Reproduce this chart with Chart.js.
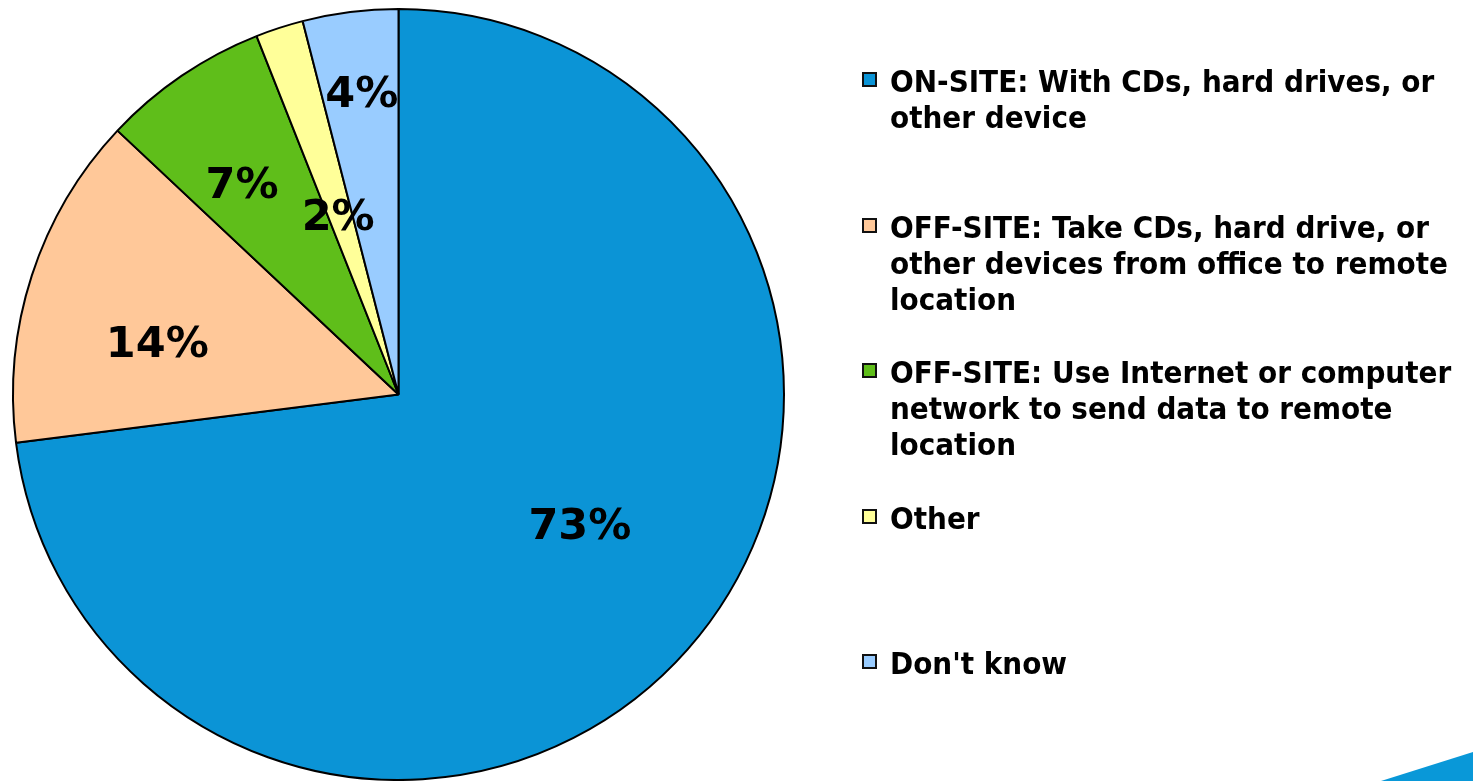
<!DOCTYPE html>
<html>
<head>
<meta charset="utf-8">
<script src="https://cdn.jsdelivr.net/npm/chart.js@4.4.1/dist/chart.umd.min.js"></script>
<style>
  html, body { margin: 0; padding: 0; background: #fff; }
  #wrap { position: relative; width: 1473px; height: 781px; overflow: hidden; }
  #chart { position: absolute; left: 0; top: 0; }
  #legend { position: absolute; left: 862px; top: 0; font-family: "DejaVu Sans", Verdana, sans-serif; font-weight: bold; font-size: 30px; color: #000; }
  .item { position: absolute; left: 0; white-space: nowrap; }
  .box { position: absolute; left: 0; top: 0; width: 11px; height: 11px; border: 2px solid #111; }
  .txt { position: absolute; left: 28px; top: -8px; line-height: 36px; transform: scaleX(0.93); transform-origin: 0 0; }
  #corner { position: absolute; right: 0; bottom: 0; width: 92px; height: 29px; background: #0998d8; clip-path: polygon(0 100%, 100% 0, 100% 100%); }
</style>
</head>
<body>
<div id="wrap">
  <canvas id="chart" width="1473" height="781"></canvas>
  <div id="legend"></div>
  <div id="corner"></div>
</div>
<script>
const categories = [
    ['ON-SITE: With CDs, hard drives, or', 'other device'],
    ['OFF-SITE: Take CDs, hard drive, or', 'other devices from office to remote', 'location'],
    ['OFF-SITE: Use Internet or computer', 'network to send data to remote', 'location'],
    ['Other'],
    ["Don't know"]
];
const shares = [73, 14, 7, 2, 4];
const sliceColors = ['#0b94d6', '#ffc899', '#5fbe1a', '#ffff99', '#99ccff'];
// where each percentage sits: fraction of radius, and nudge from the slice middle (degrees)
const labelDistance = [0.578, 0.641, 0.684, 0.493, 0.792];
const labelNudge = [-5.9, -5.5, -2.2, -0.5, 0.3];

// percentage labels inside the slices
const sliceLabels = {
    id: 'sliceLabels',
    afterDatasetsDraw(chart) {
        const ctx = chart.ctx;
        const arcs = chart.getDatasetMeta(0).data;
        ctx.save();
        ctx.font = 'bold 43px "DejaVu Sans", Verdana, sans-serif';
        ctx.fillStyle = '#000';
        ctx.textAlign = 'center';
        ctx.textBaseline = 'alphabetic';
        arcs.forEach((arc, i) => {
            const p = arc.getProps(['x', 'y', 'startAngle', 'endAngle', 'outerRadius'], true);
            const mid = (p.startAngle + p.endAngle) / 2 + labelNudge[i] * Math.PI / 180;
            const r = p.outerRadius * labelDistance[i];
            ctx.fillText(shares[i] + '%', p.x + Math.cos(mid) * r, p.y + Math.sin(mid) * r + 15.5);
        });
        ctx.restore();
    }
};

new Chart(document.getElementById('chart').getContext('2d'), {
    type: 'pie',
    data: {
        labels: categories,
        datasets: [{
            data: shares,
            backgroundColor: sliceColors,
            borderColor: '#000',
            borderWidth: 2
        }]
    },
    options: {
        responsive: false,
        animation: false,
        layout: { padding: { left: 12, top: 8, right: 688, bottom: 0 } },
        plugins: {
            legend: { display: false },
            tooltip: { enabled: false }
        }
    },
    plugins: [sliceLabels]
});

// legend on the right
const legend = document.getElementById('legend');
categories.forEach((lines, i) => {
    const item = document.createElement('div');
    item.className = 'item';
    item.style.top = (72 + i * 145.5) + 'px';
    const box = document.createElement('div');
    box.className = 'box';
    box.style.background = sliceColors[i];
    const txt = document.createElement('div');
    txt.className = 'txt';
    txt.innerHTML = lines.join('<br>');
    item.appendChild(box);
    item.appendChild(txt);
    legend.appendChild(item);
});
</script>
</body>
</html>
